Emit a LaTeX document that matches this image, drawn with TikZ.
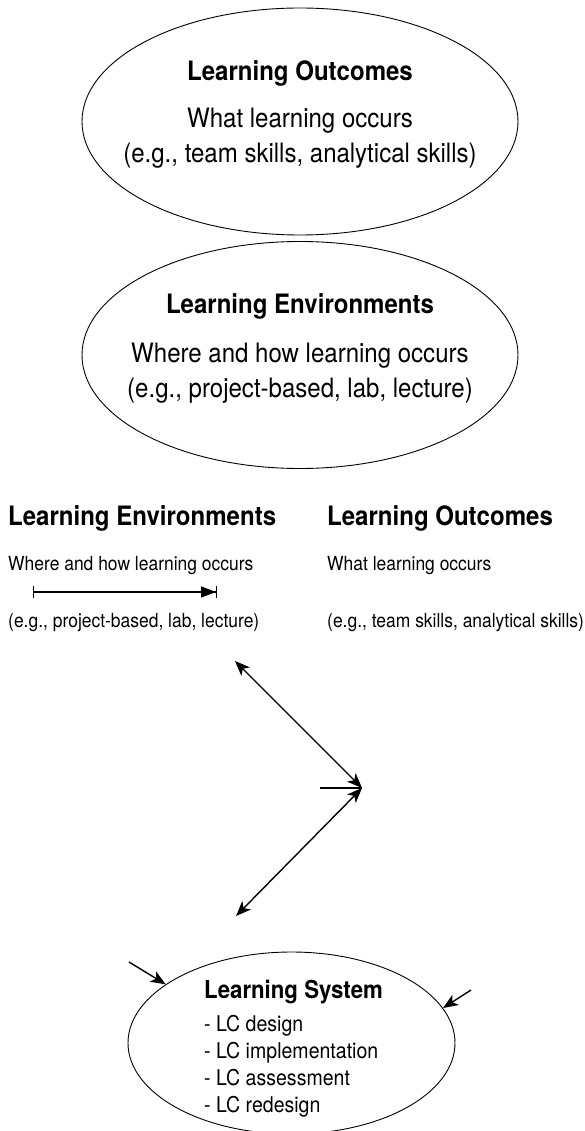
\documentclass[tikz,border=0pt]{standalone}
\usepackage{fontspec}
\setmainfont{TeX Gyre Heros}[FakeStretch=0.9]
\usetikzlibrary{arrows.meta,shapes.geometric}

\tikzset{
  ring/.style={draw,ellipse,line width=0.9pt,inner sep=0pt},
  head/.style={font=\fontsize{26.7}{30}\selectfont\bfseries,inner sep=0pt,anchor=base},
  body/.style={font=\fontsize{26.7}{30}\selectfont,inner sep=0pt,anchor=base},
  note/.style={font=\fontsize{19.4}{23}\selectfont,inner sep=0pt,anchor=base west},
  link/.style={line width=1.4pt,{Stealth[length=15pt,width=12pt,inset=4pt]}-{Stealth[length=15pt,width=12pt,inset=4pt]}},
}

\begin{document}
\begin{tikzpicture}[x=1pt,y=-1pt]
  \useasboundingbox (0,0) rectangle (585,1131);
  \clip (0,0) rectangle (585,1131);

  % stacked ellipses
  \node[ring,minimum width=436pt,minimum height=227pt] (outcomes) at (300,121.5) {};
  \node[head] (outtitle) at (300,81) {Learning Outcomes};
  \node[body] (outwhat) at (300,128) {What learning occurs};
  \node[body] (outeg) at (300,163) {(e.g., team skills, analytical skills)};

  \node[ring,minimum width=436pt,minimum height=227pt] (environments) at (300,355) {};
  \node[head] (envtitle) at (300,313) {Learning Environments};
  \node[body] (envwhere) at (300,362) {Where and how learning occurs};
  \node[body] (enveg) at (300,397) {(e.g., project-based, lab, lecture)};

  % side-by-side columns
  \node[head,anchor=base west] (envhead) at (8,525) {Learning Environments};
  \node[note] (envnote) at (8,570) {Where and how learning occurs};
  \node[note] (envex) at (8,627) {(e.g., project-based, lab, lecture)};
  \node[head,anchor=base west] (outhead) at (327,525) {Learning Outcomes};
  \node[note] (outnote) at (327,570) {What learning occurs};
  \node[note] (outex) at (327,627) {(e.g., team skills, analytical skills)};

  \coordinate (scalefrom) at (33,592);
  \coordinate (scaleto) at (217,592);
  \draw[line width=1.3pt,{Bar[width=12pt,line width=1pt]}-{Triangle[length=15pt,width=11pt]Bar[width=12pt,line width=1pt]}]
    (scalefrom) -- (scaleto);

  % arrows meeting at the hub
  \coordinate (hub) at (362,788);
  \coordinate (upend) at (235,661);
  \coordinate (lowend) at (236,916);
  \coordinate (stub) at (320,788);
  \draw[link] (upend) -- (hub);
  \draw[link] (lowend) -- (hub);
  \draw[line width=1.4pt] (stub) -- (hub);

  % learning system
  \node[ring,minimum width=327pt,minimum height=182pt] (system) at (291.5,1043) {};
  \node[head,anchor=base west,font=\fontsize{24.7}{28}\selectfont\bfseries] (systitle) at (204,998) {Learning System};
  \foreach \task [count=\i] in {design,implementation,assessment,redesign}
    \node[note,font=\fontsize{21.7}{25}\selectfont] (sysline\i) at (204,{1005.2+26.7*\i}) {- LC \task};

  \coordinate (leftin) at (129,962);
  \coordinate (rightin) at (471,990);
  \draw[line width=1.4pt,-{Stealth[length=15pt,width=12pt,inset=4pt]}] (leftin) -- (system.155.7);
  \draw[line width=1.4pt,-{Stealth[length=15pt,width=12pt,inset=4pt]}] (rightin) -- (system.13.4);
\end{tikzpicture}
\end{document}
